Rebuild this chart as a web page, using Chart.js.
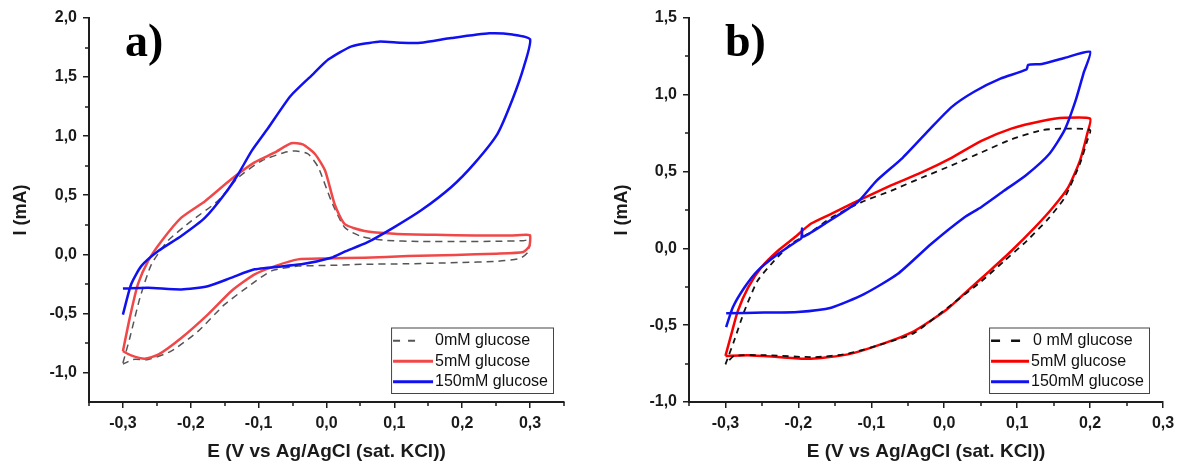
<!DOCTYPE html>
<html>
<head>
<meta charset="utf-8">
<script src="https://cdn.jsdelivr.net/npm/chart.js@4.4.1/dist/chart.umd.min.js"></script>
<style>
  html, body { margin: 0; padding: 0; background: #fff; }
  #wrap { position: relative; width: 1182px; height: 466px; overflow: hidden; }
  canvas { position: absolute; top: 0; }
  #chartA { left: 0; }
  #chartB { left: 590px; }
</style>
</head>
<body>
<div id="wrap">
  <canvas id="chartA" width="590" height="466"></canvas>
  <canvas id="chartB" width="592" height="466"></canvas>
</div>
<script>
// ---- panel a) data: potential (V) and current (mA), one closed CV loop each ----
const potA0 = [-0.300, -0.290, -0.275, -0.258, -0.234, -0.199, -0.160, -0.130, -0.096, -0.062, -0.045, -0.027, -0.012, 0.007, 0.027, 0.052, 0.083, 0.140, 0.200, 0.250, 0.290, 0.300,
  0.297, 0.285, 0.250, 0.195, 0.120, 0.052, -0.002, -0.042, -0.081, -0.111, -0.150, -0.189, -0.229, -0.263, -0.285, -0.300];
const curA0 = [-0.92, -0.71, -0.37, -0.085, 0.113, 0.283, 0.452, 0.65, 0.79, 0.862, 0.875, 0.849, 0.735, 0.452, 0.226, 0.15, 0.12, 0.108, 0.108, 0.11, 0.115, 0.12,
  0.02, -0.035, -0.06, -0.07, -0.08, -0.085, -0.095, -0.10, -0.14, -0.255, -0.424, -0.65, -0.82, -0.89, -0.89, -0.93];

const potA5 = [-0.300, -0.290, -0.278, -0.263, -0.243, -0.214, -0.179, -0.140, -0.106, -0.076, -0.052, -0.035, -0.017, -0.002, 0.012, 0.027, 0.056, 0.100, 0.160, 0.220, 0.270, 0.295, 0.300,
  0.299, 0.290, 0.250, 0.190, 0.120, 0.056, -0.002, -0.042, -0.076, -0.106, -0.140, -0.175, -0.214, -0.248, -0.268, -0.288, -0.300];
const curA5 = [-0.82, -0.54, -0.255, -0.057, 0.113, 0.31, 0.45, 0.637, 0.778, 0.862, 0.94, 0.93, 0.849, 0.707, 0.424, 0.255, 0.198, 0.175, 0.165, 0.16, 0.16, 0.165, 0.16,
  0.07, 0.02, 0.005, -0.005, -0.015, -0.029, -0.035, -0.043, -0.10, -0.17, -0.31, -0.51, -0.708, -0.849, -0.883, -0.855, -0.82];

const potA150 = [-0.300, -0.288, -0.273, -0.248, -0.214, -0.179, -0.150, -0.130, -0.110, -0.087, -0.053, -0.019, 0.003, 0.037, 0.077, 0.110, 0.139, 0.184, 0.240, 0.274, 0.300,
  0.291, 0.274, 0.252, 0.218, 0.184, 0.139, 0.100, 0.060, 0.026, 0.007, -0.037, -0.106, -0.141, -0.175, -0.214, -0.263, -0.300];
const curA150 = [-0.51, -0.255, -0.10, 0.028, 0.155, 0.31, 0.51, 0.68, 0.877, 1.06, 1.34, 1.53, 1.65, 1.76, 1.80, 1.79, 1.79, 1.83, 1.87, 1.86, 1.82,
  1.59, 1.31, 1.02, 0.77, 0.57, 0.37, 0.23, 0.10, 0.02, -0.029, -0.085, -0.127, -0.20, -0.27, -0.297, -0.283, -0.29];

// ---- panel b) data ----
const potB0 = [-0.300, -0.288, -0.274, -0.256, -0.233, -0.210, -0.183, -0.155, -0.114, -0.073, -0.031, 0.010, 0.051, 0.092, 0.134, 0.165, 0.200,
  0.196, 0.186, 0.165, 0.144, 0.113, 0.082, 0.051, 0.010, -0.041, -0.073, -0.132, -0.178, -0.247, -0.288, -0.300];
const curB0 = [-0.755, -0.60, -0.407, -0.211, -0.08, 0.029, 0.105, 0.20, 0.30, 0.375, 0.46, 0.54, 0.625, 0.71, 0.77, 0.78, 0.77,
  0.70, 0.55, 0.33, 0.20, 0.048, -0.083, -0.214, -0.366, -0.55, -0.606, -0.685, -0.708, -0.695, -0.70, -0.755];

const potB5 = [-0.300, -0.292, -0.283, -0.269, -0.251, -0.228, -0.205, -0.183, -0.155, -0.123, -0.073, -0.031, 0.010, 0.051, 0.092, 0.134, 0.165, 0.200,
  0.196, 0.186, 0.170, 0.149, 0.124, 0.092, 0.062, 0.031, 0.003, -0.041, -0.087, -0.132, -0.183, -0.224, -0.269, -0.300];
const curB5 = [-0.70, -0.56, -0.407, -0.255, -0.124, -0.015, 0.072, 0.16, 0.225, 0.30, 0.41, 0.495, 0.59, 0.70, 0.78, 0.83, 0.85, 0.845,
  0.745, 0.57, 0.397, 0.266, 0.135, -0.017, -0.148, -0.28, -0.40, -0.538, -0.625, -0.69, -0.719, -0.708, -0.695, -0.70];

const potB150 = [-0.299, -0.290, -0.274, -0.256, -0.228, -0.201, -0.196, -0.195, -0.194, -0.164, -0.119, -0.093, -0.057, -0.021, 0.010, 0.041, 0.077, 0.113, 0.115, 0.134, 0.165, 0.200,
  0.191, 0.180, 0.165, 0.144, 0.113, 0.082, 0.051, 0.027, -0.018, -0.064, -0.110, -0.155, -0.201, -0.247, -0.299];
const curB150 = [-0.512, -0.385, -0.255, -0.146, -0.037, 0.05, 0.065, 0.13, 0.075, 0.16, 0.30, 0.44, 0.59, 0.77, 0.92, 1.02, 1.105, 1.165, 1.195, 1.20, 1.24, 1.28,
  1.14, 0.96, 0.77, 0.615, 0.48, 0.375, 0.27, 0.20, 0.029, -0.167, -0.298, -0.386, -0.414, -0.418, -0.422];

// ---- labels and ticks ----
const seriesLabelsA = ['0mM glucose', '5mM glucose', '150mM glucose'];
const seriesLabelsB = ['0 mM glucose', '5mM glucose', '150mM glucose'];
const panelTags = ['a)', 'b)'];
const xTitle = 'E (V vs Ag/AgCl (sat. KCl))';
const yTitle = 'I (mA)';

const xTicksA = [-0.3, -0.2, -0.1, 0, 0.1, 0.2, 0.3];
const xMinorA = [-0.35, -0.25, -0.15, -0.05, 0.05, 0.15, 0.25, 0.35];
const yTicksA = [-1.0, -0.5, 0, 0.5, 1.0, 1.5, 2.0];
const yMinorA = [-0.75, -0.25, 0.25, 0.75, 1.25, 1.75];

const xTicksB = [-0.3, -0.2, -0.1, 0, 0.1, 0.2, 0.3];
const xMinorB = [-0.35, -0.25, -0.15, -0.05, 0.05, 0.15, 0.25];
const yTicksB = [-1.0, -0.5, 0, 0.5, 1.0, 1.5];
const yMinorB = [-0.75, -0.25, 0.25, 0.75, 1.25];

const toPoints = (xs, ys) => xs.map((x, i) => ({ x: x, y: ys[i] }));
const fmt = v => Number(v).toFixed(1).replace('.', ',');
const AXIS = '#1e1e1e';

// small outward minor ticks, placed through the chart's own scales
const minorTicks = {
  id: 'minorTicks',
  afterDraw(chart, args, o) {
    const ctx = chart.ctx, xs = chart.scales.x, ys = chart.scales.y;
    ctx.save();
    ctx.strokeStyle = AXIS;
    ctx.lineWidth = 1.5;
    ctx.beginPath();
    o.x.forEach(v => {
      const px = Math.round(xs.getPixelForValue(v));
      ctx.moveTo(px, xs.top); ctx.lineTo(px, xs.top + 4);
    });
    o.y.forEach(v => {
      const py = Math.round(ys.getPixelForValue(v));
      ctx.moveTo(ys.right, py); ctx.lineTo(ys.right - 4, py);
    });
    ctx.stroke();
    ctx.restore();
  }
};

// framed legend in the lower right corner of the plot
const boxLegend = {
  id: 'boxLegend',
  afterDraw(chart, args, o) {
    const ctx = chart.ctx, area = chart.chartArea;
    const sets = chart.data.datasets;
    ctx.save();
    ctx.font = '16px "Liberation Sans", Arial, sans-serif';
    const tw = Math.max(...sets.map(d => ctx.measureText(d.label).width));
    const rowH = 20.5;
    const w = o.sample + 4 + tw + 5;
    const h = sets.length * rowH + 4;
    const left = area.right - o.right - w;
    const top = area.bottom - o.bottom - h;
    ctx.fillStyle = '#fff';
    ctx.fillRect(left, top, w, h);
    ctx.strokeStyle = '#444';
    ctx.lineWidth = 1;
    ctx.strokeRect(left + 0.5, top + 0.5, w, h);
    sets.forEach((d, i) => {
      const cy = top + 2 + rowH * (i + 0.5) + 1;
      ctx.beginPath();
      ctx.setLineDash(d.legendDash || []);
      ctx.strokeStyle = d.borderColor;
      ctx.lineWidth = d.borderWidth + 0.5;
      ctx.moveTo(left + 2, cy);
      ctx.lineTo(left + 2 + (d.legendDash ? o.dashLen : o.sample), cy);
      ctx.stroke();
      ctx.setLineDash([]);
      ctx.fillStyle = '#111';
      ctx.textBaseline = 'middle';
      ctx.fillText(d.label, left + o.sample + 4 + (d.textShift || 0), cy);
    });
    ctx.restore();
  }
};

// big serif panel letter
const panelTag = {
  id: 'panelTag',
  afterDraw(chart, args, o) {
    const ctx = chart.ctx;
    ctx.save();
    ctx.font = 'bold 46px "Liberation Serif", "Times New Roman", serif';
    ctx.fillStyle = '#000';
    ctx.textBaseline = 'alphabetic';
    ctx.fillText(o.text, chart.chartArea.left + 36, 56);
    ctx.restore();
  }
};

function makeChart(id, cfg) {
  const tickFont = { family: '"Liberation Sans", Arial, sans-serif', size: 16, weight: 'bold' };
  const titleFont = { family: '"Liberation Sans", Arial, sans-serif', size: 19, weight: 'bold' };
  return new Chart(document.getElementById(id), {
    type: 'scatter',
    data: { datasets: cfg.datasets },
    options: {
      responsive: false,
      animation: false,
      events: [],
      layout: { padding: { top: 18, right: cfg.padRight, left: 0, bottom: 0 } },
      plugins: {
        legend: { display: false },
        tooltip: { enabled: false },
        minorTicks: { x: cfg.xMinor, y: cfg.yMinor },
        boxLegend: { right: cfg.legRight, bottom: 9, sample: cfg.sample, dashLen: cfg.dashLen },
        panelTag: { text: cfg.tag }
      },
      elements: { point: { radius: 0 } },
      scales: {
        x: {
          type: 'linear',
          min: cfg.xMin, max: cfg.xMax,
          afterBuildTicks: s => { s.ticks = cfg.xTicks.map(v => ({ value: v })); },
          afterFit: s => { s.height = 64; },
          ticks: { autoSkip: false, maxRotation: 0, padding: 6, color: '#1a1a1a', font: tickFont, callback: fmt },
          grid: { drawOnChartArea: false, drawTicks: true, tickLength: 6, color: AXIS, lineWidth: 1.5 },
          border: { color: AXIS, width: 2 },
          title: { display: true, text: xTitle, color: '#1a1a1a', font: titleFont, padding: { top: 0, bottom: 3 } }
        },
        y: {
          type: 'linear',
          min: cfg.yMin, max: cfg.yMax,
          afterBuildTicks: s => { s.ticks = cfg.yTicks.map(v => ({ value: v })); },
          afterFit: s => { s.width = cfg.yAxisWidth; },
          ticks: { autoSkip: false, padding: 6, color: '#1a1a1a', font: tickFont, callback: fmt },
          grid: { drawOnChartArea: false, drawTicks: true, tickLength: 6, color: AXIS, lineWidth: 1.5 },
          border: { color: AXIS, width: 2 },
          title: { display: true, text: yTitle, color: '#1a1a1a', font: { family: titleFont.family, size: 18, weight: 'bold' }, padding: { top: cfg.yTitlePad, bottom: 0 } }
        }
      }
    },
    plugins: [minorTicks, boxLegend, panelTag]
  });
}

function line(label, xs, ys, color, width, dash, order, extra) {
  return Object.assign({
    label: label,
    data: toPoints(xs, ys),
    showLine: true,
    borderColor: color,
    backgroundColor: color,
    borderWidth: width,
    borderDash: dash || [],
    pointRadius: 0,
    tension: 0.2,
    fill: false,
    order: order
  }, extra || {});
}

makeChart('chartA', {
  tag: panelTags[0],
  xMin: -0.35, xMax: 0.35, yMin: -1.25, yMax: 2.0,
  xTicks: xTicksA, yTicks: yTicksA, xMinor: xMinorA, yMinor: yMinorA,
  padRight: 26, yAxisWidth: 89, yTitlePad: 10.5,
  legRight: 11, sample: 40, dashLen: 23,
  datasets: [
    line(seriesLabelsA[0], potA0, curA0, '#555555', 1.5, [7, 5], 2, { legendDash: [7, 8] }),
    line(seriesLabelsA[1], potA5, curA5, '#f04848', 2.5, null, 1),
    line(seriesLabelsA[2], potA150, curA150, '#1010f0', 2.5, null, 0)
  ]
});

makeChart('chartB', {
  tag: panelTags[1],
  xMin: -0.35, xMax: 0.3, yMin: -1.0, yMax: 1.5,
  xTicks: xTicksB, yTicks: yTicksB, xMinor: xMinorB, yMinor: yMinorB,
  padRight: 19, yAxisWidth: 99, yTitlePad: 21,
  legRight: 14, sample: 38, dashLen: 30,
  datasets: [
    line(seriesLabelsB[0], potB0, curB0, '#111111', 1.8, [6, 5], 1, { legendDash: [9, 11], textShift: 2 }),
    line(seriesLabelsB[1], potB5, curB5, '#f80000', 2.5, null, 2),
    line(seriesLabelsB[2], potB150, curB150, '#1010f0', 2.5, null, 0)
  ]
});
</script>
</body>
</html>
